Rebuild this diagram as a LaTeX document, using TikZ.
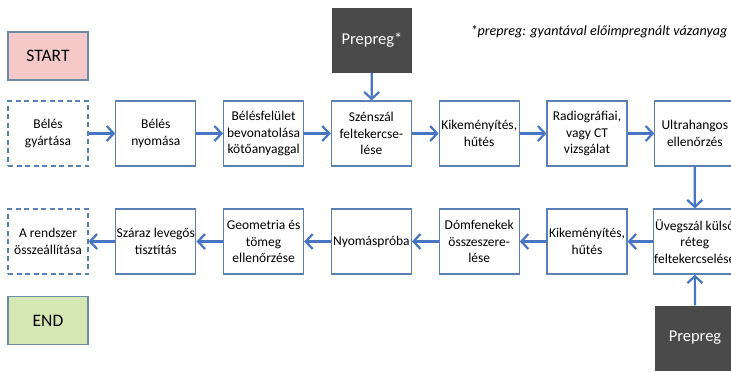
\documentclass[tikz,border=0pt]{standalone}
\usepackage{fontspec}
\setmainfont{Carlito}
\usetikzlibrary{positioning,chains,arrows.meta}
\definecolor{boxline}{HTML}{5B80B4}
\definecolor{arrowblue}{HTML}{4874C4}
\definecolor{startpink}{HTML}{F6C9C9}
\definecolor{endgreen}{HTML}{D5E8B4}
\definecolor{prepgray}{HTML}{4A4A4A}
\definecolor{edgegray}{HTML}{6F8BAA}
\tikzset{stepbox/.style={rectangle, draw=boxline, line width=1.2pt,
           minimum width=80pt, minimum height=65pt, inner sep=1pt,
           align=center, font=\fontsize{13.5}{16.5}\selectfont},
         dashbox/.style={stepbox, dash pattern=on 5pt off 3.5pt},
         termbox/.style={rectangle, draw=edgegray, line width=1.5pt,
           minimum width=80pt, minimum height=48pt,
           font=\fontsize{17.5}{20}\selectfont},
         prepbox/.style={rectangle, fill=prepgray, text=white,
           minimum width=80pt, minimum height=65pt,
           font=\fontsize{16.5}{19}\selectfont},
         flow/.style={draw=arrowblue, line width=2.2pt,
           -{Straight Barb[length=7pt,width=15pt]}}}

\begin{document}
\begin{tikzpicture}[x=1pt, y=-1pt, node distance=107.8pt, on grid]
	\useasboundingbox (0,0) rectangle (731,372);
	\clip (0,0) rectangle (731,372);

	\node[termbox, fill=startpink] (start) at (48,56) {START};
	\node[termbox, fill=endgreen] (end) at (48,320.5) {END};
	\node[prepbox] (prep1) at (372,40.5) {Prepreg*};
	\node[prepbox] (prep2) at (695,338) {Prepreg};
	\node[anchor=west, font=\fontsize{14.1}{16}\selectfont\itshape] (note)
		at (467,32) {*prepreg: gyantával előimpregnált vázanyag};

	% upper row
	\begin{scope}[start chain=top going right]
		\node[dashbox,on chain] (bgy) at (48,133.5) {Bélés\\gyártása};
		\node[stepbox,on chain] (bny) {Bélés\\nyomása};
		\node[stepbox,on chain] (bbev) {Bélésfelület\\bevonatolása\\kötőanyaggal};
		\node[stepbox,on chain] (szen) {Szénszál\\feltekercse-\\lése};
		\node[stepbox,on chain] (kik1) {Kikeményítés,\\hűtés};
		\node[stepbox,on chain] (radio) {Radiográfiai,\\vagy CT\\vizsgálat};
		\node[stepbox,on chain] (ultra) {Ultrahangos\\ellenőrzés};
	\end{scope}

	% lower row
	\begin{scope}[start chain=bot going left]
		\node[stepbox,on chain] (uveg) at (694.8,241.5) {Üvegszál külső\\réteg\\feltekercselése};
		\node[stepbox,on chain] (kik2) {Kikeményítés,\\hűtés};
		\node[stepbox,on chain] (dom) {Dómfenekek\\összeszere-\\lése};
		\node[stepbox,on chain] (nyom) {Nyomáspróba};
		\node[stepbox,on chain] (geom) {Geometria és\\tömeg\\ellenőrzése};
		\node[stepbox,on chain] (szar) {Száraz levegős\\tisztítás};
		\node[dashbox,on chain] (rend) {A rendszer\\összeállítása};
	\end{scope}

	\draw[flow] (bgy) -- (bny);
	\draw[flow] (bny) -- (bbev);
	\draw[flow] (bbev) -- (szen);
	\draw[flow] (szen) -- (kik1);
	\draw[flow] (kik1) -- (radio);
	\draw[flow] (radio) -- (ultra);
	\draw[flow] (prep1) -- (szen);
	\draw[flow] (ultra) -- (uveg);
	\draw[flow] (prep2) -- (uveg);
	\draw[flow] (uveg) -- (kik2);
	\draw[flow] (kik2) -- (dom);
	\draw[flow] (dom) -- (nyom);
	\draw[flow] (nyom) -- (geom);
	\draw[flow] (geom) -- (szar);
	\draw[flow] (szar) -- (rend);
\end{tikzpicture}
\end{document}
